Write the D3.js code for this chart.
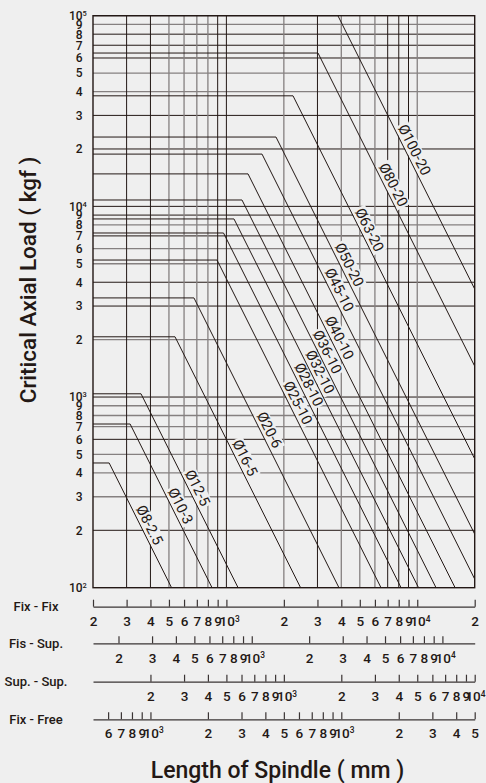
<!DOCTYPE html>
<html>
<head>
<meta charset="utf-8">
<script src="https://cdnjs.cloudflare.com/ajax/libs/d3/7.8.5/d3.min.js"></script>
<style>
  body { margin: 0; background: #efefef; }
  svg { display: block; font-family: Roboto, "DejaVu Sans", sans-serif; }
</style>
</head>
<body>
<div id="chart"></div>
<script>
// ball screw sizes (dia - lead)
var screws = ["Ø100-20", "Ø80-20", "Ø63-20", "Ø50-20", "Ø45-10", "Ø40-10", "Ø36-10", "Ø32-10",
              "Ø28-10", "Ø25-10", "Ø20-6", "Ø16-5", "Ø12-5", "Ø10-3", "Ø8-2.5"];
// flat part of each curve (kgf)
var maxLoads = [100000, 63700, 38000, 23100, 18800, 14800, 10800, 8590, 7250, 5230, 3310, 2070, 1040, 722, 451];
// length (mm, Fix-Fix scale) where the flat part ends
var kneeLengths = [3840, 3020, 2234, 1819, 1537, 1298, 1207, 1096, 966, 893, 676, 538, 357, 313, 243];
// load where each label sits on the sloped part
var labelLoads = [19750, 12950, 7520, 4930, 3640, 2040, 1720, 1350, 1160, 930, 671, 479, 333, 268, 213];

// load axis
var yTickValues = [100, 200, 300, 400, 500, 600, 700, 800, 900,
                   1000, 2000, 3000, 4000, 5000, 6000, 7000, 8000, 9000,
                   10000, 20000, 30000, 40000, 50000, 60000, 70000, 80000, 90000, 100000];
var yTickLabels = ["10^2", "2", "3", "4", "5", "6", "7", "8", "9",
                   "10^3", "2", "3", "4", "5", "6", "7", "8", "9",
                   "10^4", "2", "3", "4", "5", "6", "7", "8", "9", "10^5"];

// length axes, one per mounting
var fixFixDomain = [200, 20000];
var fixFixTicks = [200, 300, 400, 500, 600, 700, 800, 900, 1000,
                   2000, 3000, 4000, 5000, 6000, 7000, 8000, 9000, 10000, 20000];
var fixFixLabels = ["2", "3", "4", "5", "6", "7", "8", "9", "10^3",
                    "2", "3", "4", "5", "6", "7", "8", "9", "10^4", "2"];

var fisSupDomain = [147, 14770];
var fisSupTicks = [200, 300, 400, 500, 600, 700, 800, 900, 1000,
                   2000, 3000, 4000, 5000, 6000, 7000, 8000, 9000, 10000];
var fisSupLabels = ["2", "3", "4", "5", "6", "7", "8", "9", "10^3",
                    "2", "3", "4", "5", "6", "7", "8", "9", "10^4"];

var supSupDomain = [100, 10000];
var supSupTicks = [200, 300, 400, 500, 600, 700, 800, 900, 1000,
                   2000, 3000, 4000, 5000, 6000, 7000, 8000, 9000, 10000];
var supSupLabels = ["2", "3", "4", "5", "6", "7", "8", "9", "10^3",
                    "2", "3", "4", "5", "6", "7", "8", "9", "10^4"];

var fixFreeDomain = [500, 50000];
var fixFreeTicks = [600, 700, 800, 900, 1000, 2000, 3000, 4000, 5000, 6000, 7000, 8000, 9000,
                    10000, 20000, 30000, 40000, 50000];
var fixFreeLabels = ["6", "7", "8", "9", "10^3", "2", "3", "4", "5", "6", "7", "8", "9",
                     "10^3", "2", "3", "4", "5"];

var axisNames = ["Fix - Fix", "Fis - Sup.", "Sup. - Sup.", "Fix - Free"];

// ---- layout
var W = 486, H = 783;
var plot = {left: 93, right: 474.7, top: 15.7, bottom: 587.7};
var ink = "#231815", grey = "#858080";

// which grid lines are printed dark
var darkV = [300, 400, 900, 1000, 3000, 7000, 8000, 9000];
var darkH = [80000, 70000, 60000, 30000, 20000, 10000, 9000, 7000, 4000, 3000, 1000, 600, 200];

var svg = d3.select("#chart")
  .append("svg")
    .attr("width", W)
    .attr("height", H);

svg.append("rect").attr("width", W).attr("height", H).attr("fill", "#efefef");

var x = d3.scaleLog().domain(fixFixDomain).range([plot.left, plot.right]);
var y = d3.scaleLog().domain([yTickValues[0], yTickValues[yTickValues.length - 1]]).range([plot.bottom, plot.top]);

// put the part after "^" up as superscript
var supText = function(sel) {
  sel.each(function() {
    var t = d3.select(this), s = t.text();
    if (s.indexOf("^") < 0) return;
    var parts = s.split("^");
    t.text(parts[0]);
    t.append("tspan").attr("dy", "-0.55em").attr("font-size", "0.62em").text(parts[1]);
  });
};

// grid
var grid = svg.append("g");
grid.selectAll(".h")
  .data(yTickValues.slice(1, -1))
  .enter().append("line")
    .attr("x1", plot.left).attr("x2", plot.right)
    .attr("y1", d => y(d)).attr("y2", d => y(d))
    .attr("stroke", d => darkH.indexOf(d) >= 0 ? ink : grey)
    .attr("stroke-width", d => darkH.indexOf(d) >= 0 ? 1 : 1.3);
grid.selectAll(".v")
  .data(fixFixTicks.slice(1, -1))
  .enter().append("line")
    .attr("y1", plot.top).attr("y2", plot.bottom)
    .attr("x1", d => x(d)).attr("x2", d => x(d))
    .attr("stroke", d => darkV.indexOf(d) >= 0 ? ink : grey)
    .attr("stroke-width", d => darkV.indexOf(d) >= 0 ? 1 : 1.3);

var labelBg = svg.append("g");

// curves: flat up to the knee, then falling with 1/L^2
svg.append("clipPath").attr("id", "clip")
  .append("rect")
    .attr("x", plot.left).attr("y", plot.top)
    .attr("width", plot.right - plot.left).attr("height", plot.bottom - plot.top);

var curves = screws.map((name, i) => {
  var p = maxLoads[i], k = kneeLengths[i], end = fixFixDomain[1];
  return [[fixFixDomain[0], p], [k, p], [end, p * (k / end) * (k / end)]];
});

var line = d3.line().x(d => x(d[0])).y(d => y(d[1]));
svg.append("g").attr("clip-path", "url(#clip)")
  .selectAll("path")
  .data(curves)
  .enter().append("path")
    .attr("d", line)
    .attr("fill", "none")
    .attr("stroke", ink)
    .attr("stroke-width", 1);

// frame
svg.append("rect")
  .attr("x", plot.left).attr("y", plot.top)
  .attr("width", plot.right - plot.left).attr("height", plot.bottom - plot.top)
  .attr("fill", "none").attr("stroke", ink).attr("stroke-width", 1.4);

// labels along the slopes
var labels = svg.append("g");
screws.forEach((name, i) => {
  var p = maxLoads[i], k = kneeLengths[i];
  var len = k * Math.sqrt(p / labelLoads[i]);
  var a = curves[i][1], b = curves[i][2];
  var angle = Math.atan2(y(b[1]) - y(a[1]), x(b[0]) - x(a[0])) * 180 / Math.PI;
  var tr = "translate(" + x(len) + "," + y(labelLoads[i]) + ") rotate(" + angle + ")";
  var g = labels.append("g").attr("transform", tr);
  var t = g.append("text")
    .attr("x", 4).attr("y", -3.5)
    .attr("text-anchor", "middle")
    .attr("font-size", 14.5)
    .attr("fill", ink)
    .text(name);
  var bb = t.node().getBBox();
  labelBg.append("rect")
    .attr("transform", tr)
    .attr("x", bb.x - 1.5).attr("y", bb.y + 1)
    .attr("width", bb.width + 3).attr("height", bb.height - 2)
    .attr("fill", "#efefef");
});

// load axis
var yAxis = svg.append("g")
  .attr("transform", "translate(" + plot.left + ",0)")
  .call(d3.axisLeft(y).tickValues(yTickValues).tickFormat((d, i) => yTickLabels[i]).tickSize(0).tickPadding(10.5));
yAxis.select(".domain").remove();
yAxis.selectAll("text")
  .attr("font-size", 12).attr("font-weight", 500).attr("fill", ink)
  .attr("font-family", "Roboto, sans-serif")
  .attr("dx", (d, i) => yTickLabels[i].indexOf("^") >= 0 ? "0.36em" : 0)
  .call(supText);

// length axes
var lengthAxes = [
  {domain: fixFixDomain, ticks: fixFixTicks, labels: fixFixLabels, y: 606.7, pad: 10},
  {domain: fisSupDomain, ticks: fisSupTicks, labels: fisSupLabels, y: 643.3, pad: 10},
  {domain: supSupDomain, ticks: supSupTicks, labels: supSupLabels, y: 681.7, pad: 10},
  {domain: fixFreeDomain, ticks: fixFreeTicks, labels: fixFreeLabels, y: 719.3, pad: 9}
];
lengthAxes.forEach((ax, j) => {
  var s = d3.scaleLog().domain(ax.domain).range([plot.left, plot.right]);
  var g = svg.append("g")
    .attr("transform", "translate(0," + ax.y + ")")
    .call(d3.axisBottom(s).tickValues(ax.ticks).tickFormat((d, i) => ax.labels[i])
      .tickSizeInner(-7).tickSizeOuter(0).tickPadding(ax.pad));
  g.select(".domain").attr("stroke", "#3a3434").attr("stroke-width", 1.3);
  g.selectAll(".tick line").attr("stroke", "#3a3434").attr("stroke-width", 1.2);
  g.selectAll("text")
    .attr("font-size", 13.5).attr("font-weight", 500).attr("fill", ink)
    .attr("font-family", "Roboto, sans-serif")
    .attr("dx", (d, i) => {
      if (ax.labels[i].indexOf("^") < 0) return 0;
      // keep the last one inside the page
      return s(d) > plot.right - 2 ? "0.02em" : "0.2em";
    })
    .call(supText);

  svg.append("text")
    .attr("x", 36).attr("y", ax.y + 4.6)
    .attr("text-anchor", "middle")
    .attr("font-size", 13).attr("font-weight", 500).attr("fill", ink)
    .text(axisNames[j]);
});

// titles
svg.append("text")
  .attr("x", 277.5).attr("y", 778.3)
  .attr("text-anchor", "middle")
  .attr("font-size", 23).attr("font-weight", 500).attr("fill", ink)
  .text("Length of Spindle ( mm )");

svg.append("text")
  .attr("transform", "translate(36,280) rotate(-90)")
  .attr("text-anchor", "middle")
  .attr("font-size", 22.5).attr("font-weight", 500).attr("fill", ink)
  .text("Critical Axial Load ( kgf )");
</script>
</body>
</html>
